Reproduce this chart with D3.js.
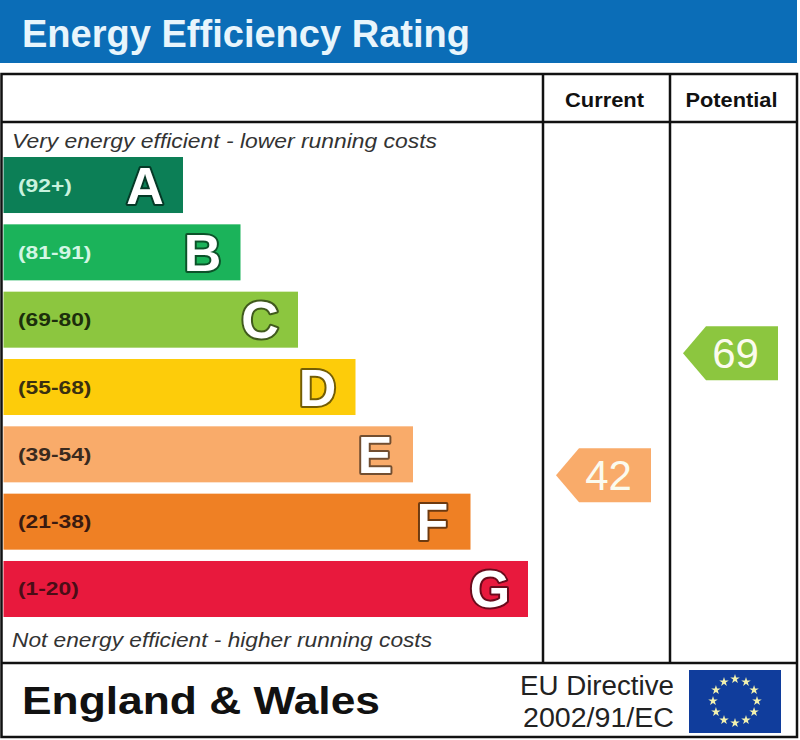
<!DOCTYPE html>
<html>
<head>
<meta charset="utf-8">
<script src="https://cdn.jsdelivr.net/npm/d3@7"></script>
<style>
  body { margin: 0; background: #fff; }
  svg { display: block; font-family: "Liberation Sans", Arial, sans-serif; }
</style>
</head>
<body>
<div id="chart"></div>
<script>
// rating bands, top (best) to bottom (worst)
var ratings = ["A", "B", "C", "D", "E", "F", "G"];
var rangeLabels = ["(92+)", "(81-91)", "(69-80)", "(55-68)", "(39-54)", "(21-38)", "(1-20)"];
var lowerBounds = [92, 81, 69, 55, 39, 21, 1];
var barColors = ["#0c7f56", "#1bb35a", "#8cc63f", "#fdcc0a", "#f9ab6a", "#ef8024", "#e8193d"];
var labelColors = ["#c8f2de", "#d2f6e4", "#1c2e0c", "#3a2f10", "#3a2a1e", "#3a1a10", "#4a0d16"];

var columns = ["Current", "Potential"];
var scores = [42, 69];

var width = 800, height = 740;

var svg = d3.select("#chart").append("svg")
  .attr("width", width)
  .attr("height", height);

// header band
svg.append("rect")
  .attr("x", 0).attr("y", 0)
  .attr("width", 797).attr("height", 63)
  .attr("fill", "#0b6db7");

svg.append("text")
  .attr("x", 22).attr("y", 47)
  .attr("font-size", 39)
  .attr("font-weight", "bold")
  .attr("fill", "#e8f5fc")
  .attr("textLength", 448)
  .attr("lengthAdjust", "spacingAndGlyphs")
  .text("Energy Efficiency Rating");

// scales
var yScale = d3.scaleBand()
  .domain(ratings)
  .range([157, 617])
  .paddingInner(0.168)
  .paddingOuter(0);

var step = yScale.step();

// right edge of each bar grows with the rating index
var barEnd = d3.scaleLinear()
  .domain([0, ratings.length - 1])
  .range([183, 528]);

var colScale = d3.scaleBand()
  .domain(columns)
  .range([543, 797]);

// score -> vertical position, piecewise through each band
var bandBottom = function(r) { return yScale(r) + 61.5; };
var valueDomain = lowerBounds.slice().reverse().concat([100]);
var valueRange = ratings.slice().reverse().map(bandBottom)
  .concat([bandBottom("A") - step]);
var valueY = d3.scaleLinear().domain(valueDomain).range(valueRange);

// table grid
var grid = svg.append("g")
  .attr("fill", "none")
  .attr("stroke", "#111")
  .attr("stroke-width", 2.5);

grid.append("rect")
  .attr("x", 1.5).attr("y", 74)
  .attr("width", 795.5).attr("height", 663);
grid.append("line").attr("x1", 1.5).attr("x2", 797).attr("y1", 122).attr("y2", 122);
grid.append("line").attr("x1", 1.5).attr("x2", 797).attr("y1", 663).attr("y2", 663);
columns.forEach(function(c) {
  grid.append("line")
    .attr("x1", colScale(c)).attr("x2", colScale(c))
    .attr("y1", 74).attr("y2", 663);
});

// column headers
svg.selectAll(".colhead")
  .data(columns)
  .enter().append("text")
  .attr("class", "colhead")
  .attr("x", function(d) { return colScale(d) + colScale.bandwidth() / 2 - 2; })
  .attr("y", 107)
  .attr("text-anchor", "middle")
  .attr("font-size", 20)
  .attr("font-weight", "bold")
  .attr("fill", "#111")
  .attr("textLength", function(d) { return d == "Current" ? 79 : 92; })
  .attr("lengthAdjust", "spacingAndGlyphs")
  .text(function(d) { return d; });

// italic captions
svg.append("text")
  .attr("x", 12).attr("y", 148)
  .attr("font-size", 20)
  .attr("font-style", "italic")
  .attr("fill", "#333")
  .attr("textLength", 425)
  .attr("lengthAdjust", "spacingAndGlyphs")
  .text("Very energy efficient - lower running costs");

svg.append("text")
  .attr("x", 12).attr("y", 647)
  .attr("font-size", 20)
  .attr("font-style", "italic")
  .attr("fill", "#333")
  .attr("textLength", 420)
  .attr("lengthAdjust", "spacingAndGlyphs")
  .text("Not energy efficient - higher running costs");

// bars
var bars = svg.selectAll(".band")
  .data(ratings)
  .enter().append("g")
  .attr("class", "band");

bars.append("rect")
  .attr("x", 3.5)
  .attr("y", function(d) { return yScale(d); })
  .attr("width", function(d, i) { return barEnd(i) - 3.5; })
  .attr("height", yScale.bandwidth())
  .attr("fill", function(d, i) { return barColors[i]; });

bars.append("text")
  .attr("transform", function(d) {
    return "translate(18," + (yScale(d) + yScale.bandwidth() / 2 + 6.5) + ") scale(1.2,1)";
  })
  .attr("font-size", 19)
  .attr("font-weight", "bold")
  .attr("fill", function(d, i) { return labelColors[i]; })
  .text(function(d, i) { return rangeLabels[i]; });

bars.append("text")
  .attr("x", function(d, i) { return barEnd(i) - 38; })
  .attr("y", function(d) { return yScale(d) + yScale.bandwidth() / 2 + 18.5; })
  .attr("text-anchor", "middle")
  .attr("font-size", 52)
  .attr("font-weight", "bold")
  .attr("fill", "#fff")
  .attr("stroke", function(d, i) { return d3.color(barColors[i]).darker(2.2); })
  .attr("stroke-width", 4)
  .attr("stroke-linejoin", "round")
  .attr("paint-order", "stroke")
  .text(function(d) { return d; });

// score arrows
function ratingOf(v) {
  for (var i = 0; i < lowerBounds.length; i++) {
    if (v >= lowerBounds[i]) return i;
  }
  return lowerBounds.length - 1;
}

var arrowW = 95, arrowH = 54, tip = 23;

var arrows = svg.selectAll(".score")
  .data(columns)
  .enter().append("g")
  .attr("class", "score")
  .attr("transform", function(d, i) {
    var cx = colScale(d) + colScale.bandwidth() / 2 - 3;
    return "translate(" + (cx - arrowW / 2) + "," + valueY(scores[i]) + ")";
  });

arrows.append("path")
  .attr("d", "M0,0L" + tip + "," + (-arrowH / 2) + "L" + arrowW + "," + (-arrowH / 2) +
             "L" + arrowW + "," + (arrowH / 2) + "L" + tip + "," + (arrowH / 2) + "Z")
  .attr("fill", function(d, i) { return barColors[ratingOf(scores[i])]; });

arrows.append("text")
  .attr("x", arrowW / 2 + 5)
  .attr("y", 15)
  .attr("text-anchor", "middle")
  .attr("font-size", 42)
  .attr("fill", "#fbfbee")
  .text(function(d, i) { return scores[i]; });

// footer
svg.append("text")
  .attr("x", 22).attr("y", 714)
  .attr("font-size", 38)
  .attr("font-weight", "bold")
  .attr("fill", "#111")
  .attr("textLength", 358)
  .attr("lengthAdjust", "spacingAndGlyphs")
  .text("England & Wales");

svg.append("text")
  .attr("x", 674).attr("y", 695)
  .attr("text-anchor", "end")
  .attr("font-size", 27)
  .attr("fill", "#222")
  .attr("textLength", 154)
  .attr("lengthAdjust", "spacingAndGlyphs")
  .text("EU Directive");

svg.append("text")
  .attr("x", 674).attr("y", 727)
  .attr("text-anchor", "end")
  .attr("font-size", 27)
  .attr("fill", "#222")
  .attr("textLength", 151)
  .attr("lengthAdjust", "spacingAndGlyphs")
  .text("2002/91/EC");

// EU flag
var flag = svg.append("g").attr("transform", "translate(689,670)");
flag.append("rect")
  .attr("width", 92).attr("height", 63)
  .attr("fill", "#103d9c");

var star = d3.symbol().type(d3.symbolStar).size(28);
flag.selectAll(".star")
  .data(d3.range(12))
  .enter().append("path")
  .attr("class", "star")
  .attr("d", star)
  .attr("fill", "#f2f2b0")
  .attr("transform", function(d) {
    var a = d / 12 * 2 * Math.PI;
    return "translate(" + (46 + 22 * Math.sin(a)) + "," + (31 - 22 * Math.cos(a)) + ")";
  });
</script>
</body>
</html>
